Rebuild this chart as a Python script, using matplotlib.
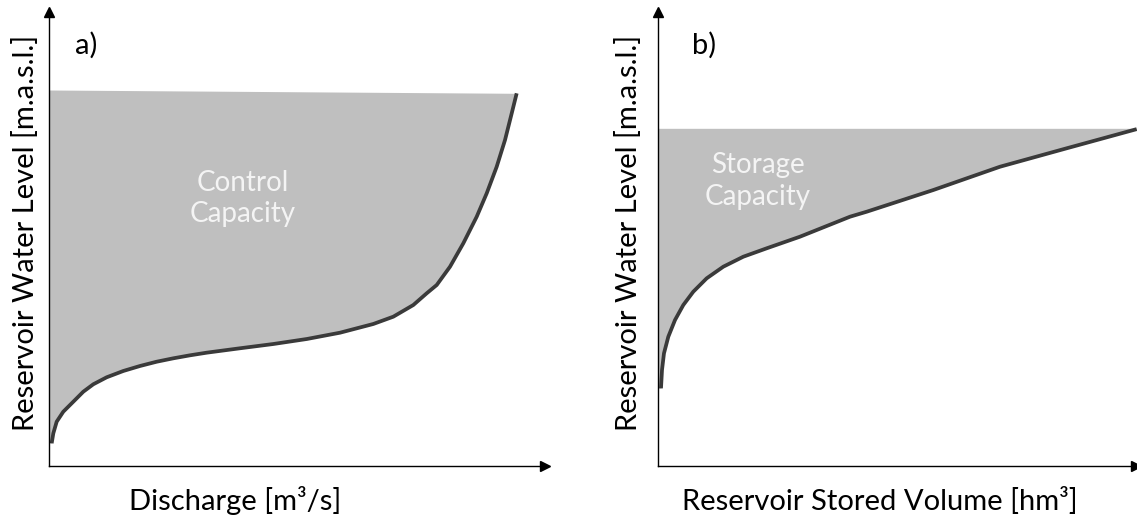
import numpy as np
import matplotlib.pyplot as plt

plt.rcParams['font.family'] = ['Lato', 'DejaVu Sans']

# panel a) level vs discharge (schematic units, 0-100)
discharge = [0.54, 0.87, 1.55, 2.88, 4.90, 6.92, 8.93, 11.63, 14.98, 18.35,
             21.71, 25.06, 28.43, 31.79, 38.51, 45.22, 51.96, 58.67, 65.38,
             69.42, 73.45, 76.15, 78.17, 80.85, 83.53, 86.23, 88.25, 90.26,
             91.94, 93.29, 94.29]
level_a = [5.0, 7.2, 9.76, 11.96, 14.16, 16.37, 18.0, 19.54, 20.93, 22.03,
           22.97, 23.72, 24.38, 24.96, 25.93, 26.87, 27.97, 29.36, 31.28,
           32.89, 35.46, 38.04, 39.87, 43.9, 49.05, 54.91, 60.07, 65.92,
           71.81, 77.69, 82.09]
top_a = [82.82, 82.09]  # upper edge of the control capacity area

# panel b) level vs stored volume
volume = [0.62, 0.83, 1.24, 2.14, 3.53, 5.25, 7.32, 10.10, 13.55, 17.70,
          22.55, 29.46, 39.83, 43.30, 57.12, 70.95, 84.79, 99.31]
level_b = [17.11, 21.15, 24.82, 28.48, 32.16, 35.46, 38.39, 41.34, 43.9,
           46.1, 47.95, 50.51, 54.91, 56.01, 60.79, 65.92, 69.98, 74.2]
top_b = 74.38

fill_col = '#bfbfbf'
line_col = '#3a3a3a'
txt_col = '#f4f4f4'
fs = 21

fig = plt.figure(figsize=(11.37, 5.16), dpi=100)
axa = fig.add_axes([49/1137, 50/516, 496/1137, 454/516])
axb = fig.add_axes([658/1137, 50/516, 482/1137, 454/516])


def setup(ax, xarrow=1.0):
    ax.set_xlim(0, 100)
    ax.set_ylim(0, 100)
    for s in ['top', 'right']:
        ax.spines[s].set_visible(False)
    for s in ['left', 'bottom']:
        ax.spines[s].set_linewidth(1.0)
        ax.spines[s].set_color('black')
        ax.spines[s].set_zorder(5)
    ax.set_xticks([])
    ax.set_yticks([])
    ax.plot(xarrow, 0, '>k', ms=7, transform=ax.transAxes, clip_on=False)
    ax.plot(0, 1, '^k', ms=7, transform=ax.transAxes, clip_on=False)
    ax.patch.set_alpha(0)


setup(axa)
setup(axb, xarrow=0.992)

# a)
xa = np.array(discharge)
ya = np.array(level_a)
upper_a = np.interp(xa, [0, xa[-1]], top_a)
axa.fill_between(np.r_[0, xa], np.r_[ya[0], ya], np.r_[top_a[0], upper_a],
                 color=fill_col, lw=0)
axa.plot(xa, ya, color=line_col, lw=2.7, solid_capstyle='butt',
         solid_joinstyle='round')
axa.text(7.5, 92.7, 'a)', fontsize=fs, ha='center', va='center')
axa.text(39.1, 59.0, 'Control\nCapacity', fontsize=20, color=txt_col,
         ha='center', va='center', linespacing=1.25)
axa.text(-0.048, 0.513, 'Reservoir Water Level [m.a.s.l.]', fontsize=fs,
         rotation=90, ha='center', va='center', transform=axa.transAxes)
axa.text(0.375, -0.077, 'Discharge [m³/s]', fontsize=fs,
         ha='center', va='center', transform=axa.transAxes)

# b)
xb = np.array(volume)
yb = np.array(level_b)
axb.fill_between(np.r_[0, xb], np.r_[yb[0], yb], top_b,
                 color=fill_col, lw=0)
axb.plot(xb, yb, color=line_col, lw=2.7, solid_capstyle='butt',
         solid_joinstyle='round')
axb.text(9.5, 92.7, 'b)', fontsize=fs, ha='center', va='center')
axb.text(20.7, 62.8, 'Storage\nCapacity', fontsize=20, color=txt_col,
         ha='center', va='center', linespacing=1.25)
axb.text(-0.062, 0.513, 'Reservoir Water Level [m.a.s.l.]', fontsize=fs,
         rotation=90, ha='center', va='center', transform=axb.transAxes)
axb.text(0.46, -0.077, 'Reservoir Stored Volume [hm³]', fontsize=fs,
         ha='center', va='center', transform=axb.transAxes)

fig.savefig('out.png', dpi=100)
